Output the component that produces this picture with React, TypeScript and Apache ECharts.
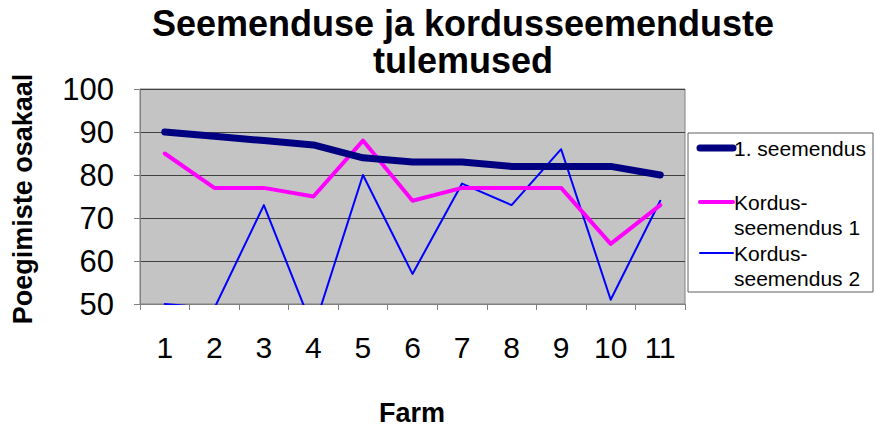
import React, { useEffect, useRef } from "react";
import * as echarts from "echarts";

const farms = ["1", "2", "3", "4", "5", "6", "7", "8", "9", "10", "11"];
const seriesNames = ["1. seemendus", "Kordus-\nseemendus 1", "Kordus-\nseemendus 2"];
const seemendus1 = [90, 89, 88, 87, 84, 83, 83, 82, 82, 82, 80];
const kordus1 = [85, 77, 77, 75, 88, 74, 77, 77, 77, 64, 73];
const kordus2 = [50, 49, 73, 44, 80, 57, 78, 73, 86, 51, 74];
const colors = ["#000080", "#ff00ff", "#0000ff"];
const widths = [7, 4, 2];
const titleText = "Seemenduse ja kordusseemenduste\ntulemused";
const yTitle = "Poegimiste osakaal";
const xTitle = "Farm";

export default function App() {
  const ref = useRef<HTMLDivElement>(null);
  useEffect(() => {
    if (!ref.current) return;
    const chart = echarts.init(ref.current, null, { renderer: "svg" });
    const font = "'Liberation Sans', Arial, sans-serif";
    const data = [seemendus1, kordus1, kordus2];
    const legendY = [148, 202, 253];
    const legendGraphics: any[] = [
      {
        type: "rect",
        shape: { x: 688, y: 133, width: 185, height: 159 },
        style: { fill: "#ffffff", stroke: "#606060", lineWidth: 1 },
      },
    ];
    seriesNames.forEach((name, i) => {
      legendGraphics.push({
        type: "line",
        shape: { x1: 700, y1: legendY[i], x2: 733, y2: legendY[i] },
        style: { stroke: colors[i], lineWidth: widths[i], lineCap: "round" },
      });
      legendGraphics.push({
        type: "text",
        x: 734,
        y: legendY[i] - 12,
        style: {
          text: name,
          font: `21px ${font}`,
          fill: "#000",
          lineHeight: 25,
          textVerticalAlign: "top",
        },
      });
    });
    chart.setOption({
      animation: false,
      backgroundColor: "#ffffff",
      grid: {
        left: 140,
        right: 190,
        top: 89,
        bottom: 126,
        show: true,
        backgroundColor: "#c4c4c4",
        borderColor: "#808080",
        borderWidth: 1,
      },
      xAxis: {
        type: "category",
        data: farms,
        boundaryGap: true,
        axisLine: { lineStyle: { color: "#808080", width: 1 } },
        axisTick: { show: true, length: 6, inside: false, lineStyle: { color: "#808080" } },
        axisLabel: { fontSize: 30, color: "#000", fontFamily: font, margin: 28 },
        splitLine: { show: false },
      },
      yAxis: {
        type: "value",
        min: 50,
        max: 100,
        interval: 10,
        axisLine: { show: true, lineStyle: { color: "#808080" } },
        axisTick: { show: true, length: 6, lineStyle: { color: "#808080" } },
        axisLabel: { fontSize: 31, color: "#000", fontFamily: font, margin: 26 },
        splitLine: { show: true, lineStyle: { color: "#404040", width: 1 } },
      },
      series: data.map((d, i) => ({
        type: "line",
        name: seriesNames[i],
        data: d,
        showSymbol: false,
        symbol: "none",
        clip: true,
        lineStyle: { color: colors[i], width: widths[i], join: "round", cap: "round" },
        itemStyle: { color: colors[i] },
        z: 3 - i,
      })),
      graphic: [
        {
          type: "text",
          x: 463,
          y: 5,
          style: {
            text: titleText,
            font: `bold 36px ${font}`,
            fill: "#000",
            textAlign: "center",
            textVerticalAlign: "top",
            lineHeight: 37,
          },
        },
        {
          type: "text",
          x: 23,
          y: 199,
          rotation: Math.PI / 2,
          style: {
            text: yTitle,
            font: `bold 27px ${font}`,
            fill: "#000",
            textAlign: "center",
            textVerticalAlign: "middle",
          },
        },
        {
          type: "text",
          x: 412,
          y: 413,
          style: {
            text: xTitle,
            font: `bold 27px ${font}`,
            fill: "#000",
            textAlign: "center",
            textVerticalAlign: "middle",
          },
        },
        ...legendGraphics,
      ],
    });
    return () => chart.dispose();
  }, []);
  return (
    <div
      ref={ref}
      style={{ position: "fixed", left: 0, top: 0, width: 875, height: 430 }}
    />
  );
}
